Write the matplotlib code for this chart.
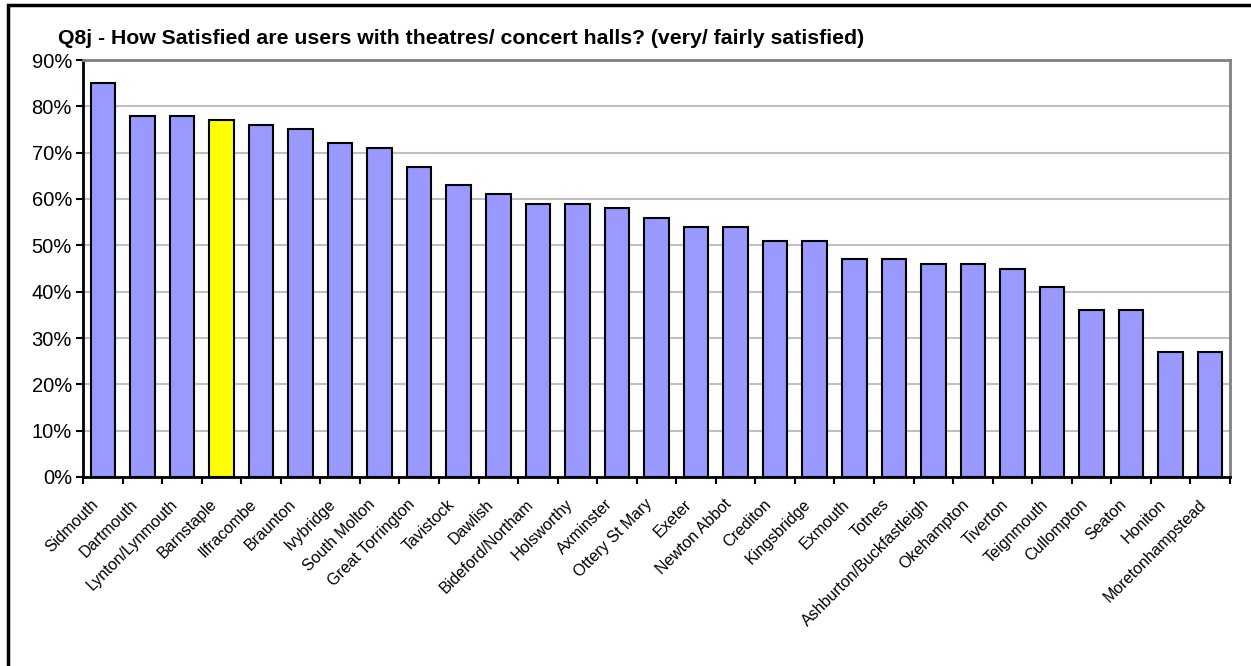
import matplotlib.pyplot as plt
from matplotlib.ticker import PercentFormatter
from matplotlib.patches import Rectangle
from matplotlib.transforms import ScaledTranslation

plt.rcParams['font.family'] = ['Liberation Sans', 'DejaVu Sans']

# === Data ===
towns = ["Sidmouth", "Dartmouth", "Lynton/Lynmouth", "Barnstaple", "Ilfracombe",
         "Braunton", "Ivybridge", "South Molton", "Great Torrington", "Tavistock",
         "Dawlish", "Bideford/Northam", "Holsworthy", "Axminster", "Ottery St Mary",
         "Exeter", "Newton Abbot", "Crediton", "Kingsbridge", "Exmouth", "Totnes",
         "Ashburton/Buckfastleigh", "Okehampton", "Tiverton", "Teignmouth",
         "Cullompton", "Seaton", "Honiton", "Moretonhampstead"]
satisfied = [85, 78, 78, 77, 76, 75, 72, 71, 67, 63, 61, 59, 59, 58, 56,
             54, 54, 51, 51, 47, 47, 46, 46, 45, 41, 36, 36, 27, 27]
highlight = "Barnstaple"

W, H = 1251, 666
fig = plt.figure(figsize=(W / 100, H / 100), dpi=100)
ax = fig.add_axes([83 / W, 1 - 477 / H, (1230 - 83) / W, (477 - 60) / H])

colors = ["#FFFF00" if t == highlight else "#9999FF" for t in towns]
x = range(len(towns))
ax.bar(x, satisfied, width=0.62, color=colors, edgecolor="black", linewidth=1.5, zorder=3)

ax.set_xlim(-0.5, len(towns) - 0.5)
ax.set_ylim(0, 90)
ax.set_yticks(range(0, 91, 10))
ax.yaxis.set_major_formatter(PercentFormatter(decimals=0))
ax.grid(axis="y", color="#C0C0C0", linewidth=1.5, zorder=0)

# ticks between categories, labels at centers
ax.set_xticks([i - 0.5 for i in range(len(towns) + 1)])
ax.set_xticklabels([])
ax.set_xticks(list(x), minor=True)
ax.set_xticklabels(towns, minor=True, rotation=45, ha="right", rotation_mode="anchor", fontsize=11.5)
ax.tick_params(axis="x", which="minor", length=0, pad=12)
ax.tick_params(axis="x", which="major", length=5, width=1.5, direction="out")
ax.tick_params(axis="y", length=5, width=1.5, labelsize=14.5, pad=3)

shift = ScaledTranslation(-0.12, -0.03, fig.dpi_scale_trans)
for lbl in ax.get_xticklabels(minor=True):
    lbl.set_transform(lbl.get_transform() + shift)

for side in ["top", "right"]:
    ax.spines[side].set_color("#808080")
    ax.spines[side].set_linewidth(2)
for side in ["left", "bottom"]:
    ax.spines[side].set_color("black")
    ax.spines[side].set_linewidth(2)

fig.text(58 / W, 1 - 38 / H, "Q8j - How Satisfied are users with theatres/ concert halls? (very/ fairly satisfied)",
         fontsize=15.3, fontweight="bold", va="center", ha="left")

# outer chart border
fig.patches.append(Rectangle((8 / W, -0.05), 1.0, 1 - 5 / H + 0.05, transform=fig.transFigure,
                             fill=False, edgecolor="black", linewidth=2.5))

fig.savefig("out.png", dpi=100)
